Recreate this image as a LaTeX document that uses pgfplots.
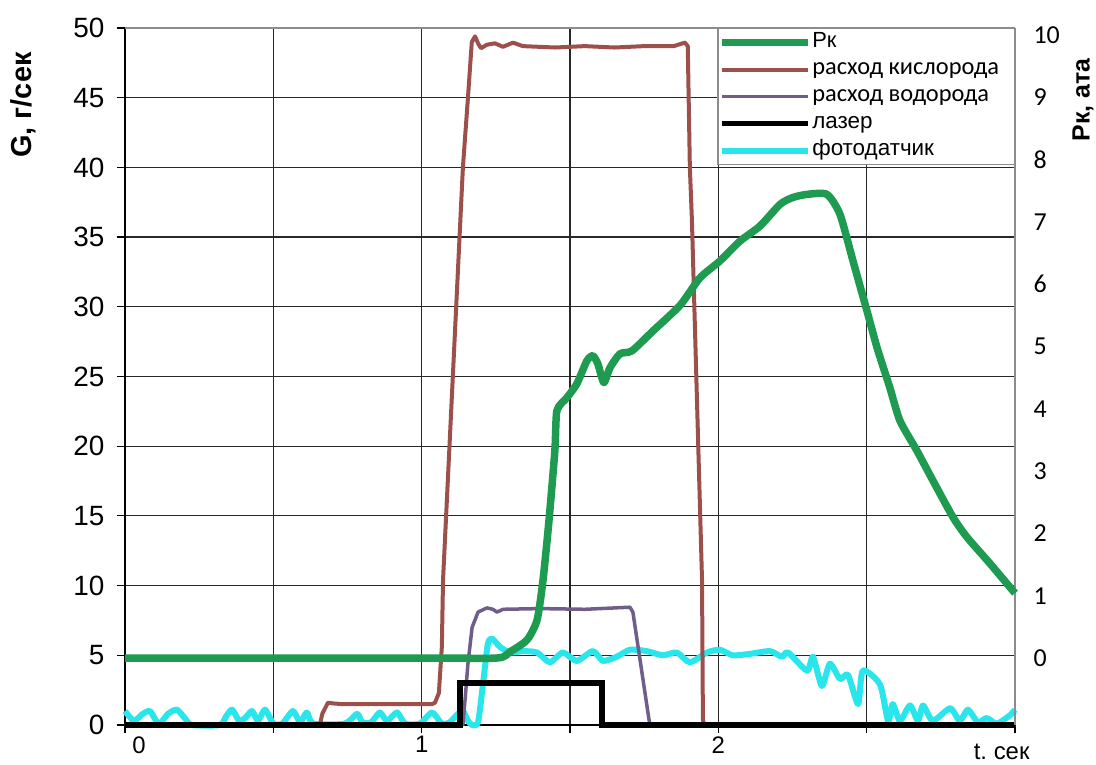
\documentclass[border=0pt]{standalone}
\usepackage{fontspec}
\setmainfont{Liberation Sans}
\newfontfamily\calib{Carlito}
\usepackage{pgfplots}
\pgfplotsset{compat=1.18}
\definecolor{cgreen}{RGB}{30,155,80}
\definecolor{cred}{RGB}{155,80,75}
\definecolor{cpurple}{RGB}{112,94,138}
\definecolor{ccyan}{RGB}{40,230,235}
\definecolor{cgrid}{RGB}{40,40,40}
\definecolor{cborder}{RGB}{140,140,140}
\begin{document}
\begin{tikzpicture}
\path[use as bounding box] (-125bp,-40bp) rectangle (971bp,725bp);
\begin{axis}[
  at={(0,0)}, anchor=south west,
  width=890bp, height=697bp, scale only axis,
  xmin=0, xmax=3, ymin=0, ymax=50,
  axis x line*=bottom, axis y line*=left,
  axis line style={-, black, line width=1.5bp},
  x axis line style={-}, y axis line style={-},
  xtick={0,0.5,...,3},
  xticklabels={{\hspace*{28bp}0},{},1,{},2,{},{}},
  ytick={0,5,...,50},
  tick align=outside,
  major tick length=8bp,
  tick style={black, line width=1.2bp},
  grid=major,
  major grid style={cgrid, line width=1.2bp},
  /pgf/number format/assume math mode=true,
  yticklabel style={font=\fontsize{28}{30}\selectfont, xshift=-9bp},
  xticklabel style={font=\fontsize{24}{26}\selectfont},
  ylabel={G, г/сек},
  ylabel style={at={(axis description cs:-0.1146,0.8895)}, anchor=center, font=\bfseries\fontsize{29}{31}\selectfont},
  xlabel={t.\ сек},
  xlabel style={at={(axis description cs:0.985,-0.0387)}, anchor=center, inner sep=0pt, font=\fontsize{24}{26}\selectfont},
  clip=false,
]
% photodetector
\addplot[ccyan, line width=6bp, smooth, tension=0.4, line join=round] coordinates {
(0,1.0) (0.03,0.3) (0.06,0.8) (0.084,1.0) (0.105,0.3) (0.118,0.1) (0.145,0.8) (0.175,1.1) (0.205,0.4) (0.225,0.0)
(0.32,0.0) (0.34,0.6) (0.361,1.1) (0.385,0.3) (0.405,0.5) (0.428,1.0) (0.448,0.3) (0.472,1.1) (0.5,0.1) (0.53,0.1)
(0.566,1.0) (0.59,0.2) (0.613,0.9) (0.635,0.1) (0.741,0.1) (0.782,0.8) (0.80,0.2) (0.83,0.2) (0.859,0.9) (0.883,0.3)
(0.917,0.9) (0.944,0.1) (0.994,0.1) (1.035,0.9) (1.068,0.1) (1.095,0.2) (1.122,0.8) (1.139,1.0) (1.156,0.3) (1.170,0.0)
(1.190,0.2) (1.207,3.0) (1.223,5.8) (1.237,6.2) (1.264,5.6) (1.298,5.2) (1.341,5.3) (1.389,5.2) (1.432,4.5) (1.476,5.2)
(1.523,4.6) (1.577,5.3) (1.611,4.6) (1.658,4.9) (1.702,5.4) (1.759,5.3) (1.813,5.0) (1.860,5.2) (1.904,4.5) (1.962,5.2)
(2.005,5.4) (2.049,5.0) (2.106,5.1) (2.174,5.3) (2.214,4.9) (2.235,5.2) (2.299,3.9) (2.319,4.9) (2.349,2.8) (2.376,4.4)
(2.410,3.3) (2.437,3.6) (2.471,1.5) (2.487,3.9) (2.545,2.9) (2.572,0.3) (2.588,1.5) (2.612,0.3) (2.646,1.4) (2.673,0.3)
(2.690,1.4) (2.723,0.3) (2.781,1.2) (2.814,0.3) (2.841,1.1) (2.875,0.2) (2.905,0.5) (2.939,0.1) (2.983,0.7) (3.0,1.1)
};
% oxygen
\addplot[cred, line width=4bp, line join=round] coordinates {
(0,0) (0.657,0) (0.665,0.8) (0.684,1.6) (0.70,1.55) (0.73,1.5) (1.035,1.5) (1.045,1.6) (1.058,2.3) (1.068,5.6) (1.072,10.4)
(1.139,40) (1.156,45) (1.169,49.0) (1.180,49.4) (1.190,48.9) (1.200,48.55) (1.220,48.8) (1.247,48.9) (1.274,48.65)
(1.308,48.95) (1.341,48.7) (1.45,48.6) (1.55,48.7) (1.65,48.6) (1.75,48.7) (1.85,48.7) (1.887,48.95) (1.897,48.7)
(1.904,40) (1.911,36.2) (1.945,10.4) (1.948,0.4) (1.952,0) (3,0)
};
% hydrogen
\addplot[cpurple, line width=3.5bp, line join=round] coordinates {
(0,0) (1.139,0) (1.147,2) (1.156,4.4) (1.170,7.0) (1.190,8.1) (1.220,8.4) (1.240,8.3) (1.254,8.1) (1.274,8.3)
(1.40,8.35) (1.55,8.3) (1.702,8.45) (1.712,8.1) (1.769,0) (3,0)
};
% laser
\addplot[black, line width=5.5bp] coordinates {
(0,0) (1.129,0) (1.129,3.0) (1.608,3.0) (1.608,0) (3,0)
};
\end{axis}
\begin{axis}[
  at={(0,0)}, anchor=south west,
  width=890bp, height=697bp, scale only axis,
  xmin=0, xmax=3, ymin=-1.075, ymax=10.11,
  axis x line*=top, axis y line*=right,
  axis line style={-, cborder, line width=1.6bp},
  x axis line style={-}, y axis line style={-},
  xtick=\empty,
  ytick={0,1,...,10},
  major tick length=0pt,
  /pgf/number format/assume math mode=true,
  yticklabel style={font=\calib\fontsize{26}{28}\selectfont, xshift=15bp},
  ylabel={Рк, ата},
  ylabel style={at={(axis description cs:1.0764,0.8967)}, anchor=center, font=\bfseries\fontsize{25}{27}\selectfont},
  clip=false,
  legend style={at={(rel axis cs:1,1)}, anchor=north east, draw=cborder, line width=1.4bp, fill=white,
    font=\calib\fontsize{24.5}{25}\selectfont, inner xsep=0bp, inner ysep=2bp, row sep=3bp,
    nodes={text height=15bp, text depth=5bp, inner ysep=2bp, inner xsep=1bp}},
  legend cell align=left,
  legend image code/.code={\path (-46bp,0bp) -- (0bp,0bp); \draw[#1] (0bp,0bp) -- (40bp,0bp);},
]
\addplot[cgreen, line width=7.5bp, smooth, tension=0.4, line join=round] coordinates {
(0,0) (1.0,0) (1.254,0) (1.298,0.1) (1.355,0.29) (1.389,0.61) (1.409,1.25) (1.429,2.2) (1.449,3.33) (1.456,3.97)
(1.490,4.18) (1.523,4.4) (1.557,4.77) (1.577,4.85) (1.594,4.72) (1.614,4.42) (1.635,4.66) (1.668,4.88) (1.709,4.93)
(1.780,5.25) (1.871,5.66) (1.938,6.1) (2.005,6.37) (2.073,6.69) (2.140,6.93) (2.208,7.28) (2.251,7.39) (2.299,7.44)
(2.366,7.44) (2.410,7.12) (2.454,6.37) (2.501,5.57) (2.535,4.98) (2.578,4.34) (2.612,3.81) (2.669,3.33) (2.723,2.85)
(2.791,2.26) (2.838,1.94) (2.915,1.52) (3.0,1.04)
};
\addlegendentry{\makebox[201bp][l]{\rmfamily\fontsize{22}{23}\selectfont Рк}}
\addlegendimage{cred, line width=4bp}
\addlegendentry{\makebox[201bp][l]{расход кислорода}}
\addlegendimage{cpurple, line width=3.5bp}
\addlegendentry{\makebox[201bp][l]{расход водорода}}
\addlegendimage{black, line width=5.5bp}
\addlegendentry{\makebox[201bp][l]{\rmfamily\fontsize{22.5}{23}\selectfont лазер}}
\addlegendimage{ccyan, line width=6bp}
\addlegendentry{\makebox[201bp][l]{\rmfamily\fontsize{22.5}{23}\selectfont фотодатчик}}
\end{axis}
\end{tikzpicture}
\end{document}
